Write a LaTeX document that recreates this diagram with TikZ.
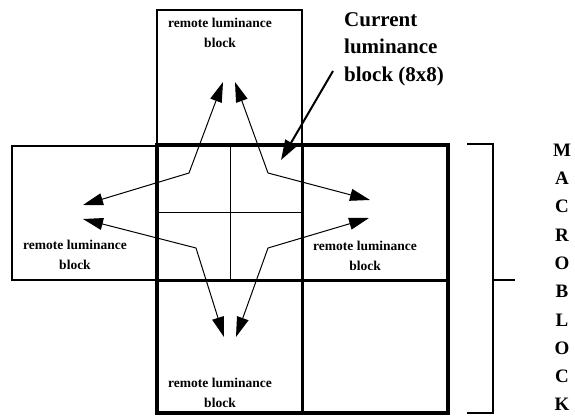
\documentclass[tikz,border=0pt]{standalone}
\usepackage{fontspec}
\setmainfont{Liberation Serif}
\usetikzlibrary{arrows.meta}
\tikzset{
  blockbox/.style={draw, line width=2pt, inner sep=0pt, rectangle},
  remotetext/.style={font=\fontsize{13.5}{20}\selectfont\bfseries, align=center, inner sep=0pt},
  mvarrow/.style={line width=1pt, -{Triangle[length=20pt,width=12pt]}},
  bracketline/.style={line width=1.8pt},
  letter/.style={font=\fontsize{19}{19}\selectfont\bfseries, inner sep=0pt},
}
\begin{document}
\begin{tikzpicture}[x=1pt, y=-1pt]
\useasboundingbox (0,0) rectangle (575,417);

% remote blocks outside the macroblock
\node[blockbox, minimum width=145pt, minimum height=135pt] (topblk) at (229.5,77.5) {};
\node[blockbox, minimum width=145pt, minimum height=134pt] (leftblk) at (84.5,213) {};

% macroblock: four 8x8 blocks
\draw[line width=4pt] (157,145) rectangle (448,413);
\draw[line width=3pt] (302,145) -- (302,413);
\draw[line width=3pt] (157,280) -- (448,280);
% current block split into 4x4 sub-blocks
\draw[line width=1pt] (230,145) -- (230,280);
\draw[line width=1pt] (157,212) -- (302,212);

% block labels
\node[remotetext] (ttop) at (220,33) {remote luminance\\block};
\node[remotetext] (tleft) at (75,255) {remote luminance\\block};
\node[remotetext] (tright) at (365,256) {remote luminance\\block};
\node[remotetext] (tbottom) at (220,393) {remote luminance\\block};

% sub-block corner points and vector tips
\coordinate (ul) at (189,173);
\coordinate (ur) at (268,173);
\coordinate (ll) at (196,248);
\coordinate (lr) at (268,248);
\coordinate (tipTL) at (223,82);
\coordinate (tipTR) at (235,82);
\coordinate (tipLU) at (83,205);
\coordinate (tipLD) at (83,219);
\coordinate (tipRU) at (370,200);
\coordinate (tipRD) at (369,218);
\coordinate (tipBL) at (224,337);
\coordinate (tipBR) at (236,337);

\draw[mvarrow] (ul) -- (tipTL);
\draw[mvarrow] (ul) -- (tipLU);
\draw[mvarrow] (ur) -- (tipTR);
\draw[mvarrow] (ur) -- (tipRU);
\draw[mvarrow] (ll) -- (tipLD);
\draw[mvarrow] (ll) -- (tipBL);
\draw[mvarrow] (lr) -- (tipRD);
\draw[mvarrow] (lr) -- (tipBR);

% current block caption
\node[font=\fontsize{21}{27.5}\selectfont\bfseries, align=left, anchor=north west, inner sep=0pt] (cur) at (344,12) {Current\\luminance\\block (8x8)};
\coordinate (curfrom) at (333,71);
\coordinate (curto) at (281,160);
\draw[line width=2pt, -{Triangle[length=20pt,width=13pt]}] (curfrom) -- (curto);

% macroblock bracket
\coordinate (bt) at (467,144);
\coordinate (bb) at (467,413);
\draw[bracketline] (bt) -- (493,144) -- (493,413) -- (bb);
\coordinate (bm) at (493,280);
\coordinate (bmend) at (515,280);
\draw[bracketline] (bm) -- (bmend);

% vertical MACROBLOCK label
\foreach \ch [count=\i from 0] in {M,A,C,R,O,B,L,O,C,K} {
  \node[letter] (let\i) at (562,150+28.3*\i) {\ch};
}
\end{tikzpicture}
\end{document}
